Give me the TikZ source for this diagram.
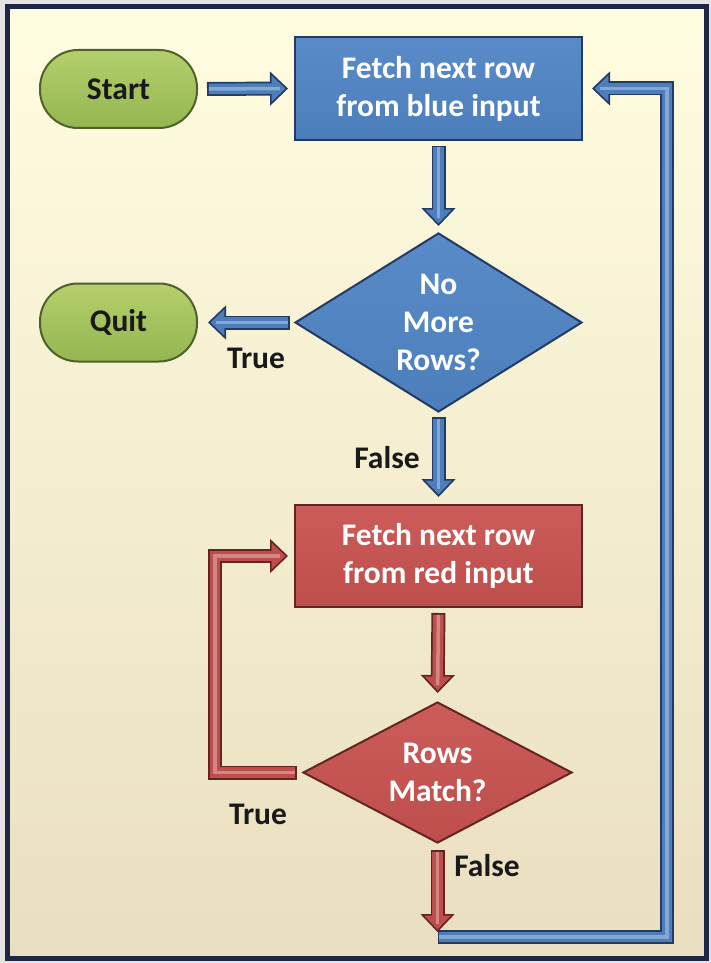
\documentclass[tikz,border=0pt]{standalone}
\usepackage{fontspec}
\setmainfont{Carlito}
\usetikzlibrary{arrows.meta,shapes.geometric}

\definecolor{bgtop}{RGB}{255,253,224}
\definecolor{bgmid}{RGB}{252,246,213}
\definecolor{bgbot}{RGB}{234,222,192}
\definecolor{frameC}{RGB}{30,38,70}
\definecolor{pillTop}{RGB}{180,208,108}
\definecolor{pillBot}{RGB}{148,182,80}
\definecolor{pillLine}{RGB}{78,97,40}
\definecolor{bFill}{RGB}{76,126,187}
\definecolor{bTop}{RGB}{88,139,200}
\definecolor{bLine}{RGB}{36,58,98}
\definecolor{rFill}{RGB}{190,78,75}
\definecolor{rTop}{RGB}{204,92,89}
\definecolor{rLine}{RGB}{99,37,35}
\definecolor{ink}{RGB}{25,25,25}

% block arrow: outline colour, fill colour, gap at start, gap at end, path
\newcommand\flowarrow[5]{%
  \pgfmathsetmacro\fgs{#3+1.8}%
  \pgfmathsetmacro\fge{#4+8}%
  \draw[line width=14pt, draw=#1, line join=miter, shorten <=#3pt, shorten >=#4pt,
        -{Triangle[length=18pt,width=34pt,line width=1.6pt,fill=#2]}] #5;
  \draw[line width=10.6pt, draw=#2, line join=miter, shorten <=\fgs pt, shorten >=\fge pt] #5;
  \draw[line width=3.5pt, draw=#2!68!white, line join=miter, shorten <=\fgs pt, shorten >=\fge pt] #5;
}

\tikzset{
  basefont/.style={font=\bfseries\fontsize{31.5}{38}\selectfont},
  pill/.style={basefont, rectangle, rounded corners=38pt, minimum width=157pt,
    minimum height=78pt, draw=pillLine, line width=2pt,
    top color=pillTop, bottom color=pillBot, text=ink},
  bluebox/.style={basefont, rectangle, minimum width=287pt, minimum height=102pt,
    draw=bLine, line width=2pt, top color=bTop, bottom color=bFill,
    text=white, align=center},
  redbox/.style={basefont, rectangle, minimum width=287pt, minimum height=102pt,
    draw=rLine, line width=2pt, top color=rTop, bottom color=rFill,
    text=white, align=center},
  bluediamond/.style={basefont, diamond, aspect=1.6, inner sep=0pt,
    minimum width=287pt, minimum height=179pt, draw=bLine, line width=2pt,
    top color=bTop, bottom color=bFill, text=white, align=center},
  reddiamond/.style={basefont, diamond, aspect=1.9, inner sep=0pt,
    minimum width=269pt, minimum height=141pt, draw=rLine, line width=2pt,
    top color=rTop, bottom color=rFill, text=white, align=center},
  lbl/.style={basefont, text=ink, inner sep=0pt},
}

\begin{document}
\begin{tikzpicture}[x=1pt,y=-1pt]
  \useasboundingbox (0,0) rectangle (711,963);
  % page and framed panel
  \fill[gray!22] (0,0) rectangle (711,963);
  \path[draw=frameC, line width=5pt, top color=bgtop, middle color=bgmid, bottom color=bgbot]
    (7.5,7) rectangle (706,958);

  % nodes
  \node[pill] (start) at (118.5,89) {Start};
  \node[pill] (quit) at (118.5,322.5) {Quit};
  \node[bluebox] (bbox) at (438.5,88.5) {Fetch next row\\from blue input};
  \node[bluediamond] (bdia) at (438.5,322.5) {No\\More\\Rows?};
  \node[redbox] (rbox) at (438.5,556) {Fetch next row\\from red input};
  \node[reddiamond] (rdia) at (437.5,772.5) {Rows\\Match?};

  % bend points of the two loops
  \coordinate (rloop) at (215,772.5);
  \coordinate (loopS) at (437.5,937);
  \coordinate (loopR) at (667,88.5);

  % connectors
  \flowarrow{bLine}{bFill}{9}{6}{(start.east) -- (bbox.west)}
  \flowarrow{bLine}{bFill}{5}{6}{(bbox.south) -- (bdia.north)}
  \flowarrow{bLine}{bFill}{4}{10}{(bdia.west) -- (quit.east)}
  \flowarrow{bLine}{bFill}{4}{7}{(bdia.south) -- (rbox.north)}
  \flowarrow{rLine}{rFill}{5}{8}{(rbox.south) -- (rdia.north)}
  \flowarrow{rLine}{rFill}{5}{6}{(rdia.west) -- (rloop) |- (rbox.west)}
  \flowarrow{bLine}{bFill}{0}{9}{(loopS) -| (loopR) -- (bbox.east)}
  \flowarrow{rLine}{rFill}{6}{5}{(rdia.south) -- (loopS)}

  % branch labels
  \node[lbl] (t1) at (256,358) {True};
  \node[lbl] (f1) at (387,458) {False};
  \node[lbl] (t2) at (258,814) {True};
  \node[lbl] (f2) at (487,866) {False};
\end{tikzpicture}
\end{document}
